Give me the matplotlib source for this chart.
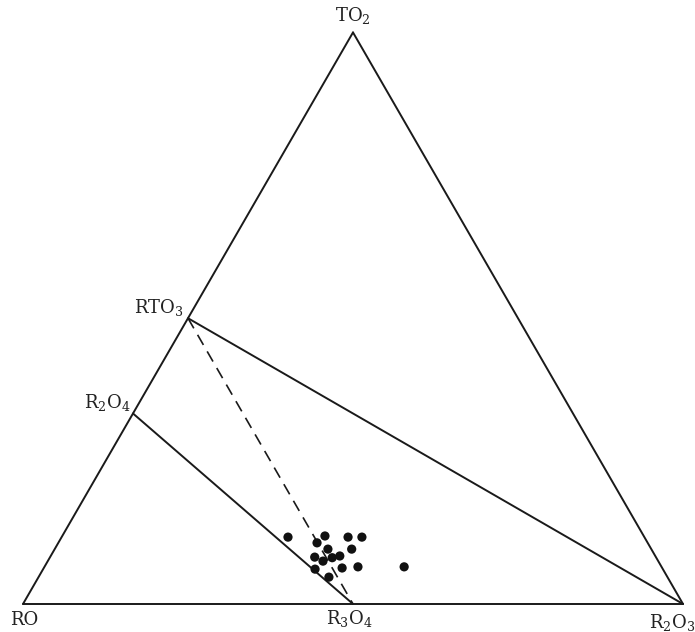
import numpy as np
import matplotlib.pyplot as plt

plt.rcParams['mathtext.fontset'] = 'dejavuserif'

# end members (mol fractions RO, R2O3, TO2)
RO_PT = (1.0, 0.0, 0.0)
R2O3_PT = (0.0, 1.0, 0.0)
TO2_PT = (0.0, 0.0, 1.0)
RTO3_PT = (0.5, 0.0, 0.5)      # RO.TO2
R2O4_PT = (2/3, 0.0, 1/3)      # 2RO.TO2
R3O4_PT = (0.5, 0.5, 0.0)      # RO.R2O3

# analyses, mol %
ro = [54.0, 48.3, 44.9, 42.8, 50.1, 49.0, 45.4, 51.7, 50.8, 49.1, 47.8, 52.7, 48.5, 46.0, 51.3, 39.0]
r2o3 = [34.3, 39.8, 43.4, 45.5, 39.2, 41.4, 45.0, 40.1, 41.7, 42.8, 43.8, 41.2, 45.2, 47.5, 44.0, 54.5]
to2 = [11.7, 11.9, 11.7, 11.7, 10.7, 9.6, 9.6, 8.2, 7.5, 8.1, 8.4, 6.1, 6.3, 6.5, 4.7, 6.5]


def tern(a, b, c):
    # RO at the left, R2O3 at the right, TO2 on top
    a, b, c = np.asarray(a, float), np.asarray(b, float), np.asarray(c, float)
    s = a + b + c
    b, c = b / s, c / s
    return b + c / 2, c * np.sqrt(3) / 2


def seg(p, q, **kw):
    x0, y0 = tern(*p)
    x1, y1 = tern(*q)
    ax.plot([x0, x1], [y0, y1], **kw)


fig = plt.figure(figsize=(6.95, 6.32), dpi=100)
ax = fig.add_axes([0, 0, 1, 1])
ax.set_xlim(-23 / 660, 672 / 660)
ax.set_ylim(-28 / 660, 604 / 660)
ax.set_aspect('equal')
ax.axis('off')

line = dict(color='#1a1a1a', lw=1.4, solid_capstyle='round')
seg(RO_PT, R2O3_PT, **line)
seg(R2O3_PT, TO2_PT, **line)
seg(TO2_PT, RO_PT, **line)
seg(R2O4_PT, R3O4_PT, **line)
seg(RTO3_PT, R2O3_PT, **line)
seg(RTO3_PT, R3O4_PT, color='#1a1a1a', lw=1.2, dashes=(7, 4.5))

x, y = tern(ro, r2o3, to2)
ax.scatter(x, y, s=44, color='#111111', zorder=3, edgecolors='none')

font = dict(family='DejaVu Serif', fontsize=13, color='#222222')
tx, ty = tern(*TO2_PT)
ax.text(tx, ty + 0.01, 'TO$_2$', ha='center', va='bottom', **font)
tx, ty = tern(*RTO3_PT)
ax.text(tx - 0.006, ty + 0.0, 'RTO$_3$', ha='right', va='bottom', **font)
tx, ty = tern(*R2O4_PT)
ax.text(tx - 0.004, ty + 0.0, 'R$_2$O$_4$', ha='right', va='bottom', **font)
tx, ty = tern(*RO_PT)
ax.text(tx - 0.02, ty - 0.01, 'RO', ha='left', va='top', **font)
tx, ty = tern(*R3O4_PT)
ax.text(tx - 0.006, ty - 0.006, 'R$_3$O$_4$', ha='center', va='top', **font)
tx, ty = tern(*R2O3_PT)
ax.text(tx + 0.018, ty - 0.012, 'R$_2$O$_3$', ha='right', va='top', **font)

fig.savefig('out.png', dpi=100, facecolor='white')
